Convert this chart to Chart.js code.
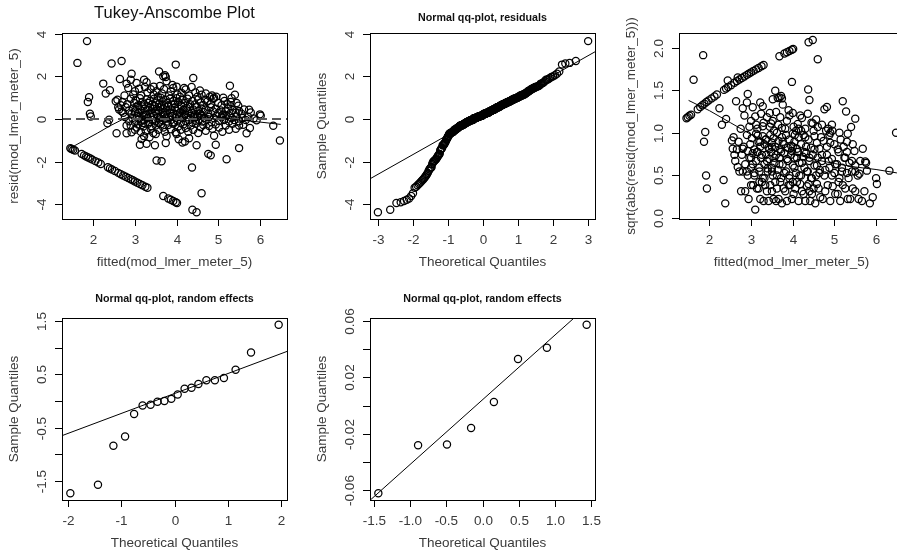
<!DOCTYPE html>
<html>
<head>
<meta charset="utf-8">
<script src="https://cdn.jsdelivr.net/npm/chart.js@4.4.1/dist/chart.umd.min.js"></script>
<style>
  html, body { margin: 0; padding: 0; background: #fff; overflow: hidden; width: 897px; height: 558px; }
  canvas { position: absolute; }
</style>
</head>
<body>
<canvas id="c1" width="308" height="279" style="left:0;top:0"></canvas>
<canvas id="c2" width="308" height="279" style="left:308px;top:0"></canvas>
<canvas id="c3" width="308" height="279" style="left:617px;top:0"></canvas>
<canvas id="c4" width="308" height="279" style="left:0;top:279px"></canvas>
<canvas id="c5" width="308" height="279" style="left:308px;top:279px"></canvas>
<script>
// fitted vs residual
const stripePts = [
  [1.45,-1.37],[1.48,-1.40],[1.52,-1.44],[1.56,-1.47],[1.72,-1.63],[1.78,-1.70],[1.83,-1.75],[1.88,-1.80],
  [1.93,-1.85],[1.98,-1.90],[2.05,-1.97],[2.12,-2.03],[2.18,-2.10],[2.35,-2.26],[2.40,-2.31],[2.45,-2.36],
  [2.52,-2.43],[2.60,-2.52],[2.66,-2.58],[2.72,-2.64],[2.78,-2.70],[2.84,-2.76],[2.90,-2.82],[2.95,-2.87],
  [3.00,-2.92],[3.06,-2.98],[3.12,-3.04],[3.18,-3.10],[3.25,-3.17],[3.30,-3.22],[3.68,-3.60],[3.80,-3.72],
  [3.86,-3.78],[3.92,-3.84],[3.98,-3.90],[4.01,-3.93]
];
const lowPts = [
  [4.38,-4.25],[4.48,-4.36],[4.37,-2.27],[4.60,-3.47],[3.52,-1.94],[3.64,-1.98],[4.76,-1.63],[4.82,-1.70],
  [5.20,-1.88],[5.50,-1.36],[4.94,-1.20],[4.48,-1.23],[4.20,-1.05],[4.14,-1.10],[6.48,-1.00],[3.48,-1.23],
  [3.28,-1.16],[3.16,-0.94],[3.12,-1.20],[3.74,-1.12],[3.22,-0.80],[3.76,-0.80],[4.90,-0.78],[4.30,-0.90],
  [4.05,-0.95],[3.35,-0.85]
];
const highPts = [
  [1.85,3.65],[1.62,2.63],[2.44,2.60],[2.68,2.72],[3.98,2.55],[3.58,2.23],[2.92,2.12],[3.72,2.05],
  [2.64,1.88],[2.24,1.66],[3.22,1.84],[3.28,1.72],[2.90,1.84],[3.04,1.69],[2.80,1.66],[3.74,1.97],
  [3.76,1.77],[4.40,1.92],[4.36,1.50],[5.28,1.56],[3.60,1.55],[3.45,1.52],[3.90,1.60],[4.00,1.52],[3.68,2.00],
  [2.30,1.20],[2.40,1.35],[2.84,1.45],[3.92,1.45],[4.56,1.34],[4.60,1.14],[4.22,1.38],[4.12,1.22],
  [5.40,1.14],[4.85,1.10],[4.80,1.05],[1.90,1.02],[3.00,1.30],[3.10,1.42],[3.15,1.10],[3.30,1.25],
  [3.38,1.40],[3.45,1.15],[3.52,1.30],[3.55,1.05],[3.65,1.20],[3.70,1.40],[3.82,1.10],[3.86,1.30],
  [4.02,1.15],[4.08,1.05],[4.30,1.10],[4.45,1.25],[4.50,1.05],[4.70,1.20],[4.95,1.05],[2.75,1.10],
  [2.96,1.15],[3.24,1.50],[4.18,1.45]
];
const midPts = [
  [2.70,0.80],[2.82,0.70],[2.90,0.95],[2.98,0.75],[3.02,0.88],[3.08,0.65],[3.12,0.98],[3.18,0.80],
  [3.22,0.70],[3.28,0.92],[3.32,0.75],[3.36,0.85],[3.42,0.68],[3.46,0.95],[3.50,0.78],[3.54,0.88],
  [3.58,0.70],[3.62,1.00],[3.66,0.82],[3.70,0.65],[3.74,0.90],[3.78,0.75],[3.84,0.95],[3.88,0.68],
  [3.92,0.85],[3.96,0.72],[4.00,0.98],[4.04,0.80],[4.10,0.66],[4.14,0.90],[4.20,0.75],[4.26,0.95],
  [4.32,0.70],[4.38,0.85],[4.44,0.68],[4.52,0.92],[4.58,0.78],[4.64,0.66],[4.74,0.82],[4.82,0.70],
  [4.88,0.95],[5.00,0.75],[5.08,0.65],[5.15,0.85],[5.22,0.70],[5.30,0.80],[5.44,0.75],[1.87,0.80],
  [2.54,0.83],[2.58,0.90],[5.32,0.98],[4.90,1.00],[4.68,0.90],[5.48,0.62],[5.12,1.00],[2.66,0.65],
  [2.62,0.45],[2.72,0.30],[2.78,0.55],[2.86,0.40],[2.92,0.25],[2.96,0.50],[3.00,0.35],[3.04,0.58],
  [3.08,0.28],[3.12,0.45],[3.16,0.60],[3.20,0.30],[3.24,0.50],[3.28,0.22],[3.32,0.40],[3.36,0.55],
  [3.40,0.30],[3.44,0.48],[3.48,0.60],[3.52,0.25],[3.56,0.42],[3.60,0.55],[3.64,0.32],[3.68,0.50],
  [3.72,0.22],[3.76,0.40],[3.80,0.58],[3.84,0.30],[3.88,0.45],[3.92,0.25],[3.96,0.55],[4.00,0.38],
  [4.04,0.50],[4.08,0.28],[4.12,0.60],[4.16,0.42],[4.20,0.25],[4.24,0.52],[4.28,0.35],[4.32,0.58],
  [4.36,0.30],[4.40,0.45],[4.44,0.22],[4.48,0.55],[4.52,0.38],[4.56,0.25],[4.60,0.50],[4.65,0.32],
  [4.70,0.45],[4.76,0.25],[4.82,0.55],[4.88,0.35],[4.94,0.48],[5.00,0.28],[5.06,0.40],[5.12,0.22],
  [5.18,0.35],[5.24,0.50],[5.30,0.28],[5.36,0.42],[5.42,0.30],[5.50,0.38],[5.56,0.25],[5.62,0.45],
  [6.00,0.22],[2.68,0.36],[1.92,0.25],[5.74,0.44],[5.78,0.31],[2.60,0.55],[5.30,0.60],[3.50,0.35]
];
const zeroPts = [
  [2.76,0.10],[2.86,-0.10],[2.94,0.05],[3.00,-0.15],[3.05,0.15],[3.10,0.01],[3.14,-0.12],[3.18,0.12],
  [3.22,-0.05],[3.26,0.18],[3.30,0.04],[3.34,-0.15],[3.38,0.10],[3.42,-0.04],[3.46,0.15],[3.50,-0.10],
  [3.54,0.05],[3.58,-0.18],[3.62,0.12],[3.66,-0.05],[3.70,0.18],[3.74,0.03],[3.78,-0.12],[3.82,0.10],
  [3.86,-0.04],[3.90,0.15],[3.94,-0.15],[3.98,0.05],[4.02,-0.08],[4.06,0.12],[4.10,-0.18],[4.14,0.04],
  [4.18,0.16],[4.22,-0.10],[4.26,0.08],[4.30,-0.04],[4.34,0.14],[4.38,-0.16],[4.42,0.04],[4.46,-0.08],
  [4.50,0.12],[4.54,-0.03],[4.58,0.16],[4.62,-0.12],[4.66,0.06],[4.72,-0.05],[4.78,0.10],[4.84,-0.15],
  [4.90,0.04],[4.96,0.14],[5.02,-0.08],[5.08,0.08],[5.14,-0.04],[5.20,0.15],[5.26,-0.12],[5.32,0.05],
  [5.38,-0.05],[5.44,0.12],[5.50,-0.10],[5.58,0.05],[5.66,-0.04],[5.72,0.10],[5.85,0.03],[4.00,0.18],
  [3.60,0.04],[4.40,0.10],[5.10,0.18],[3.20,-0.18],[1.94,0.12],[2.38,-0.03],[6.02,0.16],[5.92,-0.06],
  [2.90,-0.30],[3.00,-0.50],[3.08,-0.25],[3.14,-0.60],[3.20,-0.35],[3.26,-0.55],[3.32,-0.22],[3.38,-0.45],
  [3.44,-0.65],[3.50,-0.30],[3.56,-0.50],[3.62,-0.25],[3.68,-0.40],[3.72,-0.60],[3.80,-0.28],[3.86,-0.48],
  [3.92,-0.22],[3.98,-0.62],[4.04,-0.35],[4.10,-0.50],[4.16,-0.25],[4.22,-0.42],[4.28,-0.60],[4.34,-0.30],
  [4.40,-0.50],[4.46,-0.22],[4.52,-0.65],[4.58,-0.38],[4.64,-0.28],[4.70,-0.55],[4.78,-0.32],[4.86,-0.45],
  [4.94,-0.25],[5.02,-0.40],[5.10,-0.60],[5.18,-0.30],[5.26,-0.50],[5.34,-0.22],[5.42,-0.45],[5.50,-0.30],
  [5.76,-0.42],[4.00,-0.70],[3.50,-0.70],[2.80,-0.30],[2.34,-0.20],[2.56,-0.66],[2.92,-0.62],[2.80,-0.66],
  [3.04,-0.40],[3.40,-0.34],[5.60,-0.27],[6.32,-0.31],[5.68,-0.66]
];

// smoother lines
const taSmoothX = [1.45,1.8,2.1,2.4,2.7,3.0,3.3,3.6,3.9,4.2,4.5,4.8,5.1,5.4,5.7,6.0,6.5];
const taSmoothY = [-1.36,-0.98,-0.66,-0.32,-0.02,0.22,0.38,0.44,0.42,0.35,0.25,0.15,0.06,-0.02,-0.08,-0.14,-0.25];
const slSmoothX = [1.5,2.0,2.5,3.0,3.5,4.0,4.5,5.0,5.5,6.0,6.5];
const slSmoothY = [1.38,1.26,1.12,0.98,0.86,0.76,0.69,0.64,0.60,0.57,0.53];

// random effects qq plots
const re1Theo = [-1.96,-1.44,-1.15,-0.93,-0.76,-0.60,-0.45,-0.32,-0.19,-0.06,0.06,0.19,0.32,0.45,0.60,0.76,0.93,1.15,1.44,1.96];
const re1Samp = [-1.73,-1.57,-0.84,-0.665,-0.245,-0.083,-0.07,-0.015,0.0,0.04,0.12,0.23,0.25,0.32,0.39,0.39,0.43,0.585,0.91,1.43];
const re2Theo = [-1.434,-0.887,-0.489,-0.157,0.157,0.489,0.887,1.434];
const re2Samp = [-0.0623,-0.0282,-0.0277,-0.016,0.0025,0.0331,0.041,0.0574];

// qqline intercept / slope
const qqResLine = [0.19, 0.925];
const qqRe1Line = [0.14, 0.373];
const qqRe2Line = [0.0041, 0.0461];

// ticks
const taXTicks = [2,3,4,5,6];
const taYTicks = [-4,-2,0,2,4];
const qqXTicks = [-3,-2,-1,0,1,2,3];
const slYTicks = [0,0.5,1,1.5,2];
const slYLabels = ['0.0','0.5','1.0','1.5','2.0'];
const re1XTicks = [-2,-1,0,1,2];
const re1YTicks = [-1.5,-1,-0.5,0,0.5,1,1.5];
const re1YLabels = ['-1.5','','-0.5','','0.5','','1.5'];
const re2XTicks = [-1.5,-1,-0.5,0,0.5,1,1.5];
const re2XLabels = ['-1.5','-1.0','-0.5','0.0','0.5','1.0','1.5'];
const re2YTicks = [-0.06,-0.04,-0.02,0,0.02,0.04,0.06];
const re2YLabels = ['-0.06','','-0.02','','0.02','','0.06'];

const allPts = [].concat(stripePts, lowPts, highPts, midPts, zeroPts);

// normal quantile (Acklam)
function qnorm(p) {
  const a = [-3.969683028665376e+01, 2.209460984245205e+02, -2.759285104469687e+02, 1.383577518672690e+02, -3.066479806614716e+01, 2.506628277459239e+00];
  const b = [-5.447609879822406e+01, 1.615858368580409e+02, -1.556989798598866e+02, 6.680131188771972e+01, -1.328068155288572e+01];
  const c = [-7.784894002430293e-03, -3.223964580411365e-01, -2.400758277161838e+00, -2.549732539343734e+00, 4.374664141464968e+00, 2.938163982698783e+00];
  const d = [7.784695709041462e-03, 3.224671290700398e-01, 2.445134137142996e+00, 3.754408661907416e+00];
  let q, r;
  if (p < 0.02425) {
    q = Math.sqrt(-2 * Math.log(p));
    return (((((c[0]*q+c[1])*q+c[2])*q+c[3])*q+c[4])*q+c[5]) / ((((d[0]*q+d[1])*q+d[2])*q+d[3])*q+1);
  }
  if (p > 1 - 0.02425) {
    q = Math.sqrt(-2 * Math.log(1 - p));
    return -(((((c[0]*q+c[1])*q+c[2])*q+c[3])*q+c[4])*q+c[5]) / ((((d[0]*q+d[1])*q+d[2])*q+d[3])*q+1);
  }
  q = p - 0.5; r = q * q;
  return (((((a[0]*r+a[1])*r+a[2])*r+a[3])*r+a[4])*r+a[5])*q / (((((b[0]*r+b[1])*r+b[2])*r+b[3])*r+b[4])*r+1);
}

const sortedRes = allPts.map(p => p[1]).sort((u, v) => u - v);
const qqRes = sortedRes.map((v, i) => ({ x: qnorm((i + 0.5) / sortedRes.length), y: v }));

const FONT = '"Liberation Sans", Arial, sans-serif';

// draws R-style box, ticks and labels
const rAxes = {
  id: 'rAxes',
  afterDraw(chart, args, o) {
    const { ctx, chartArea: a } = chart;
    const x = chart.scales.x, y = chart.scales.y;
    ctx.save();
    ctx.strokeStyle = '#000';
    ctx.lineWidth = 1;
    ctx.strokeRect(a.left + 0.5, a.top + 0.5, a.right - a.left, a.bottom - a.top);
    ctx.fillStyle = '#3a3a3a';
    ctx.font = '13.5px ' + FONT;
    ctx.textAlign = 'center';
    ctx.textBaseline = 'middle';
    o.xTicks.forEach((v, i) => {
      const px = Math.round(x.getPixelForValue(v)) + 0.5;
      ctx.beginPath(); ctx.moveTo(px, a.bottom); ctx.lineTo(px, a.bottom + 7); ctx.stroke();
      const lab = o.xLabels ? o.xLabels[i] : String(v);
      if (lab) ctx.fillText(lab, px, a.bottom + 21);
    });
    o.yTicks.forEach((v, i) => {
      const py = Math.round(y.getPixelForValue(v)) + 0.5;
      ctx.beginPath(); ctx.moveTo(a.left, py); ctx.lineTo(a.left - 7, py); ctx.stroke();
      const lab = o.yLabels ? o.yLabels[i] : String(v);
      if (lab) {
        ctx.save(); ctx.translate(a.left - 20, py); ctx.rotate(-Math.PI / 2);
        ctx.fillText(lab, 0, 0); ctx.restore();
      }
    });
    ctx.fillText(o.xTitle, (a.left + a.right) / 2, a.bottom + 43);
    ctx.save(); ctx.translate(a.left - 48, (a.top + a.bottom) / 2); ctx.rotate(-Math.PI / 2);
    ctx.fillText(o.yTitle, 0, 0); ctx.restore();
    if (o.title) {
      ctx.fillStyle = '#111';
      ctx.font = o.titleFont + ' ' + FONT;
      ctx.fillText(o.title, (a.left + a.right) / 2, a.top + o.titleDy);
    }
    ctx.restore();
  }
};

function pointSet(data) {
  return {
    data: data,
    pointStyle: 'circle',
    pointRadius: 3.6,
    pointBorderWidth: 1.25,
    pointBorderColor: '#000',
    pointBackgroundColor: 'rgba(0,0,0,0)'
  };
}
function lineSet(data, extra) {
  return Object.assign({
    data: data,
    showLine: true,
    pointRadius: 0,
    borderColor: '#000',
    borderWidth: 1,
    fill: false
  }, extra || {});
}
function ablineData(coef, x0, x1) {
  return [{ x: x0, y: coef[0] + coef[1] * x0 }, { x: x1, y: coef[0] + coef[1] * x1 }];
}

function makeChart(id, datasets, xr, yr, pad, axes) {
  return new Chart(document.getElementById(id), {
    type: 'scatter',
    data: { datasets: datasets },
    options: {
      responsive: false,
      animation: false,
      events: [],
      layout: { padding: pad },
      scales: {
        x: { type: 'linear', min: xr[0], max: xr[1], display: false },
        y: { type: 'linear', min: yr[0], max: yr[1], display: false }
      },
      plugins: { legend: { display: false }, tooltip: { enabled: false }, rAxes: axes }
    },
    plugins: [rAxes]
  });
}

const topPad = { left: 62, top: 33, right: 21, bottom: 60 };
const botPad = { left: 62, top: 39, right: 21, bottom: 58 };

// 1. Tukey-Anscombe
makeChart('c1', [
  lineSet(taSmoothX.map((v, i) => ({ x: v, y: taSmoothY[i] }))),
  lineSet([{ x: 1.25, y: 0 }, { x: 6.65, y: 0 }], { borderColor: '#555', borderWidth: 2, borderDash: [9, 5] }),
  pointSet(allPts.map(p => ({ x: p[0], y: p[1] })))
], [1.25, 6.65], [-4.68, 4.03], topPad, {
  xTicks: taXTicks, yTicks: taYTicks,
  xTitle: 'fitted(mod_lmer_meter_5)', yTitle: 'resid(mod_lmer_meter_5)',
  title: 'Tukey-Anscombe Plot', titleFont: '16.5px', titleDy: -20
});

// 2. qq residuals
makeChart('c2', [
  lineSet(ablineData(qqResLine, -3.23, 3.2)),
  pointSet(qqRes)
], [-3.23, 3.2], [-4.68, 4.03], topPad, {
  xTicks: qqXTicks, yTicks: taYTicks,
  xTitle: 'Theoretical Quantiles', yTitle: 'Sample Quantiles',
  title: 'Normal qq-plot, residuals', titleFont: 'bold 10.7px', titleDy: -15
});

// 3. scale-location
makeChart('c3', [
  lineSet(slSmoothX.map((v, i) => ({ x: v, y: slSmoothY[i] }))),
  pointSet(allPts.map(p => ({ x: p[0], y: Math.sqrt(Math.abs(p[1])) })))
], [1.27, 6.67], [-0.01, 2.17], topPad, {
  xTicks: taXTicks, yTicks: slYTicks, yLabels: slYLabels,
  xTitle: 'fitted(mod_lmer_meter_5)', yTitle: 'sqrt(abs(resid(mod_lmer_meter_5)))'
});

// 4. random effects (20 levels)
makeChart('c4', [
  lineSet(ablineData(qqRe1Line, -2.117, 2.117)),
  pointSet(re1Theo.map((v, i) => ({ x: v, y: re1Samp[i] })))
], [-2.117, 2.117], [-1.856, 1.556], botPad, {
  xTicks: re1XTicks, yTicks: re1YTicks, yLabels: re1YLabels,
  xTitle: 'Theoretical Quantiles', yTitle: 'Sample Quantiles',
  title: 'Normal qq-plot, random effects', titleFont: 'bold 10.7px', titleDy: -19
});

// 5. random effects (8 levels)
makeChart('c5', [
  lineSet(ablineData(qqRe2Line, -1.549, 1.549)),
  pointSet(re2Theo.map((v, i) => ({ x: v, y: re2Samp[i] })))
], [-1.549, 1.549], [-0.0671, 0.0622], botPad, {
  xTicks: re2XTicks, xLabels: re2XLabels, yTicks: re2YTicks, yLabels: re2YLabels,
  xTitle: 'Theoretical Quantiles', yTitle: 'Sample Quantiles',
  title: 'Normal qq-plot, random effects', titleFont: 'bold 10.7px', titleDy: -19
});
</script>
</body>
</html>
